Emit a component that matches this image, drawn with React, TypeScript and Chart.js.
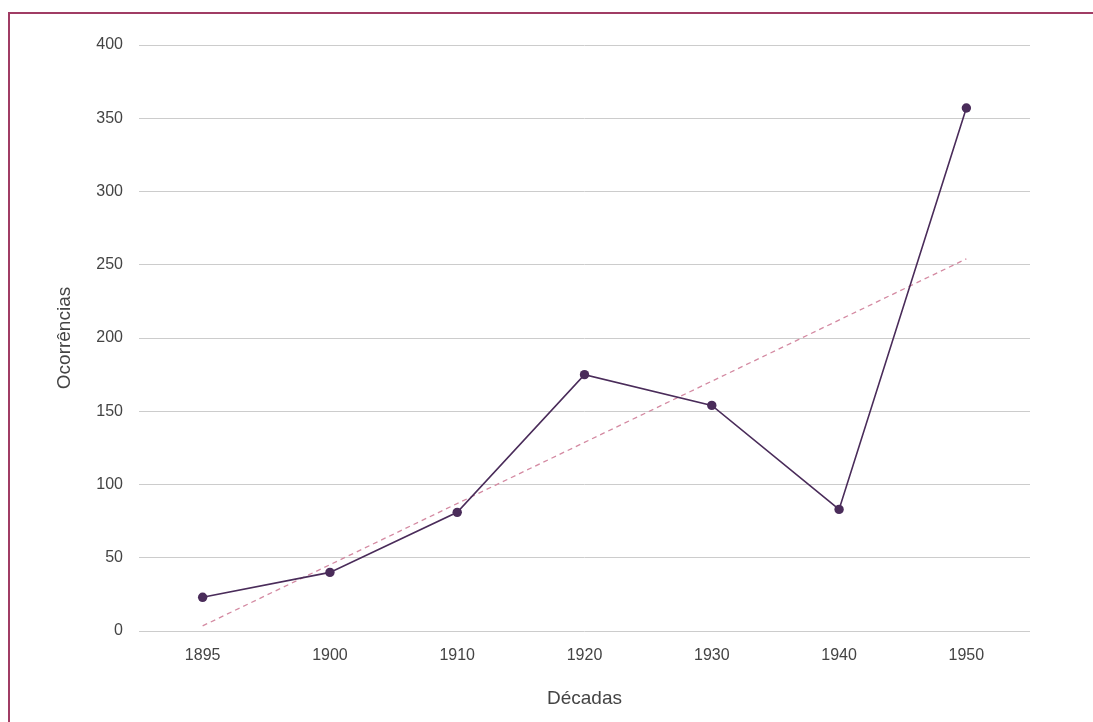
import React, { useEffect, useRef } from "react";
import { Chart, registerables } from "chart.js";

Chart.register(...registerables);

const decades = ["1895", "1900", "1910", "1920", "1930", "1940", "1950"];
const occurrences = [23, 40, 81, 175, 154, 83, 357];
const trendValues = [3.5, null, null, null, null, null, 254];
const yTicks = [0, 50, 100, 150, 200, 250, 300, 350, 400];

export default function App() {
  const ref = useRef<HTMLCanvasElement | null>(null);

  useEffect(() => {
    if (!ref.current) return;
    const font = "'Liberation Sans', Arial, sans-serif";
    const chart = new Chart(ref.current, {
      type: "line",
      data: {
        labels: decades,
        datasets: [
          {
            label: "Ocorrências",
            data: occurrences,
            borderColor: "#4a2c5a",
            backgroundColor: "#4a2c5a",
            borderWidth: 1.6,
            pointRadius: 4.7,
            pointBackgroundColor: "#4a2c5a",
            pointBorderWidth: 0,
            tension: 0,
            order: 1,
          },
          {
            label: "Tendência",
            data: trendValues,
            borderColor: "#d48aa2",
            borderWidth: 1.3,
            borderDash: [5, 4],
            pointRadius: 0,
            spanGaps: true,
            fill: false,
            order: 2,
          },
        ],
      },
      options: {
        animation: false,
        responsive: false,
        maintainAspectRatio: false,
        layout: { padding: { left: 49, right: 63, top: 45, bottom: 10 } },
        plugins: { legend: { display: false }, tooltip: { enabled: false } },
        scales: {
          x: {
            type: "category",
            offset: true,
            grid: { display: false, drawTicks: false },
            border: { display: false },
            ticks: {
              color: "#444",
              font: { family: font, size: 16 },
              padding: 15,
              maxRotation: 0,
            },
            title: {
              display: true,
              text: "Décadas",
              color: "#444",
              font: { family: font, size: 19 },
              padding: { top: 4, bottom: 2 },
            },
            afterFit: (s: any) => {
              s.height = 81;
            },
          },
          y: {
            min: 0,
            max: 400,
            afterBuildTicks: (s: any) => {
              s.ticks = yTicks.map((v) => ({ value: v }));
            },
            grid: { color: "#cccccc", lineWidth: 1, drawTicks: false },
            border: { display: false },
            ticks: {
              color: "#444",
              font: { family: font, size: 16 },
              padding: 16,
            },
            title: {
              display: true,
              text: "Ocorrências",
              color: "#444",
              font: { family: font, size: 19 },
            },
            afterFit: (s: any) => {
              s.width = 90;
            },
          },
        },
      },
    });
    return () => chart.destroy();
  }, []);

  return (
    <div style={{ position: "absolute", left: 0, top: 0, width: 1093, height: 722, overflow: "hidden" }}>
      <div
        style={{
          position: "absolute",
          left: 8,
          top: 12,
          width: 1200,
          height: 800,
          border: "2px solid #a03c64",
          boxSizing: "border-box",
        }}
      />
      <canvas
        ref={ref}
        width={1093}
        height={722}
        style={{ position: "absolute", left: 0, top: 0, width: 1093, height: 722 }}
      />
    </div>
  );
}
